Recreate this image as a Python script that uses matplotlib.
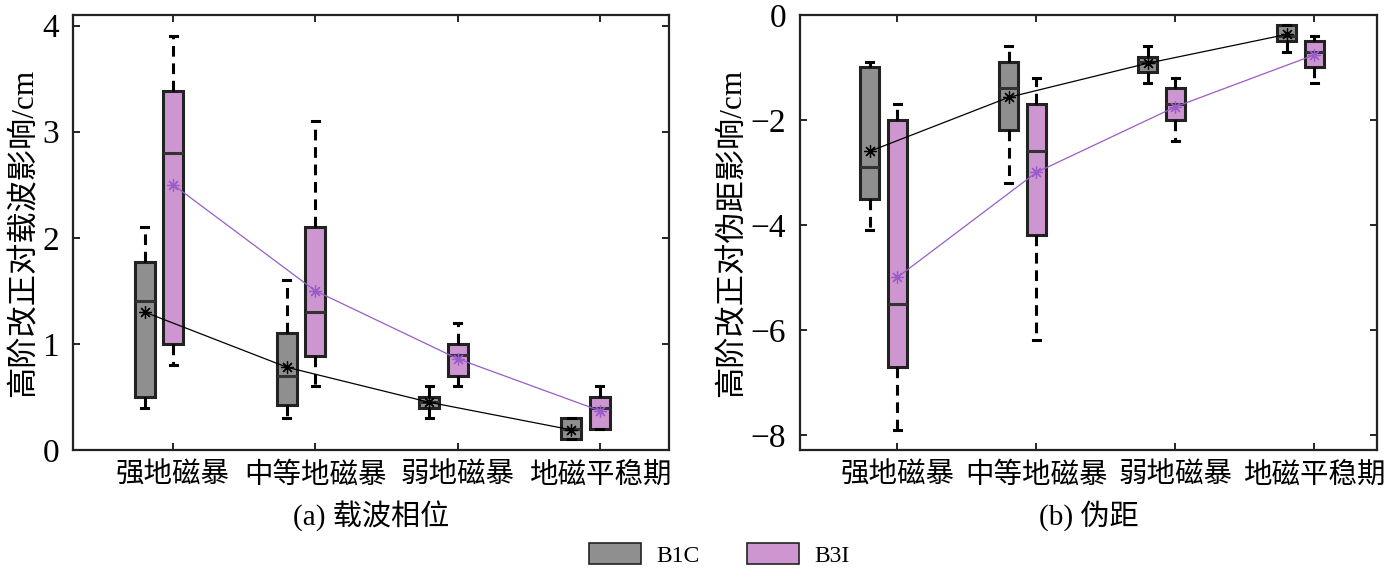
import numpy as np
import matplotlib
matplotlib.use("Agg")
import matplotlib.pyplot as plt
from matplotlib.patches import Patch

plt.rcParams['font.family'] = ['Liberation Serif', 'Noto Sans CJK SC']
plt.rcParams['axes.unicode_minus'] = True

cats = ['强地磁暴', '中等地磁暴', '弱地磁暴', '地磁平稳期']
names = ['B1C', 'B3I']
gray = '#8f8f8f'
pink = '#cd96d0'
purple = '#9a5cc8'

# (a) carrier phase: whislo, q1, med, q3, whishi, mean
phase_b1c_lo = [0.4, 0.3, 0.3, 0.1]
phase_b1c_q1 = [0.5, 0.42, 0.4, 0.1]
phase_b1c_med = [1.4, 0.7, 0.45, 0.2]
phase_b1c_q3 = [1.77, 1.1, 0.5, 0.3]
phase_b1c_hi = [2.1, 1.6, 0.6, 0.3]
phase_b1c_mean = [1.3, 0.78, 0.45, 0.19]

phase_b3i_lo = [0.8, 0.6, 0.6, 0.2]
phase_b3i_q1 = [1.0, 0.89, 0.7, 0.2]
phase_b3i_med = [2.8, 1.3, 0.9, 0.4]
phase_b3i_q3 = [3.38, 2.1, 1.0, 0.5]
phase_b3i_hi = [3.9, 3.1, 1.2, 0.6]
phase_b3i_mean = [2.5, 1.5, 0.86, 0.37]

# (b) pseudorange
range_b1c_lo = [-4.1, -3.2, -1.3, -0.7]
range_b1c_q1 = [-3.5, -2.2, -1.08, -0.5]
range_b1c_med = [-2.9, -1.4, -0.89, -0.4]
range_b1c_q3 = [-1.0, -0.9, -0.8, -0.2]
range_b1c_hi = [-0.9, -0.6, -0.6, -0.2]
range_b1c_mean = [-2.6, -1.57, -0.92, -0.37]

range_b3i_lo = [-7.9, -6.2, -2.4, -1.3]
range_b3i_q1 = [-6.7, -4.2, -2.0, -1.0]
range_b3i_med = [-5.5, -2.6, -1.7, -0.7]
range_b3i_q3 = [-2.0, -1.7, -1.4, -0.5]
range_b3i_hi = [-1.7, -1.2, -1.2, -0.4]
range_b3i_mean = [-5.0, -3.0, -1.75, -0.76]


def make_stats(lo, q1, med, q3, hi, mean):
    return [dict(whislo=a, q1=b, med=c, q3=d, whishi=e, mean=f, fliers=[])
            for a, b, c, d, e, f in zip(lo, q1, med, q3, hi, mean)]


def draw(ax, s1, s2, m1, m2):
    x = np.arange(1, len(cats) + 1)
    for stats, pos, col in [(s1, x - 0.2, gray), (s2, x, pink)]:
        ax.bxp(stats, positions=pos, widths=0.14, patch_artist=True,
               showfliers=False, showmeans=False, capwidths=0.05,
               boxprops=dict(facecolor=col, edgecolor='#222222', linewidth=2.2),
               medianprops=dict(color='#333333', linewidth=2.2),
               whiskerprops=dict(color='black', linewidth=2.2, linestyle=(0, (3.5, 2.2))),
               capprops=dict(color='black', linewidth=2.2),
               manage_ticks=False)
    ax.plot(x - 0.2, m1, color='black', lw=0.9, marker=(8, 2, 0), ms=9, mew=0.9, zorder=5)
    ax.plot(x, m2, color=purple, lw=0.9, marker=(8, 2, 0), ms=9, mew=0.9, zorder=5)
    ax.set_xticks(x)
    ax.set_xticklabels(cats, fontsize=20.5)
    ax.tick_params(axis='y', labelsize=24, pad=10)
    ax.tick_params(axis='x', pad=9)
    ax.tick_params(direction='in', top=True, right=True, length=5, width=1.2)
    for sp in ax.spines.values():
        sp.set_linewidth(1.6)
        sp.set_color('#222222')


fig = plt.figure(figsize=(13.84, 5.69), dpi=100)
ax1 = fig.add_axes([73 / 1384, 1 - 450 / 569, 596 / 1384, 435 / 569])
ax2 = fig.add_axes([800 / 1384, 1 - 450 / 569, 577 / 1384, 435 / 569])

draw(ax1,
     make_stats(phase_b1c_lo, phase_b1c_q1, phase_b1c_med, phase_b1c_q3, phase_b1c_hi, phase_b1c_mean),
     make_stats(phase_b3i_lo, phase_b3i_q1, phase_b3i_med, phase_b3i_q3, phase_b3i_hi, phase_b3i_mean),
     phase_b1c_mean, phase_b3i_mean)
ax1.set_xlim(0.296, 4.486)
ax1.set_ylim(0, 4.1)
ax1.set_yticks([0, 1, 2, 3, 4])
ax1.set_ylabel('高阶改正对载波影响/cm', fontsize=22.5, labelpad=2)
ax1.set_xlabel('(a) 载波相位', fontsize=21, labelpad=8)

draw(ax2,
     make_stats(range_b1c_lo, range_b1c_q1, range_b1c_med, range_b1c_q3, range_b1c_hi, range_b1c_mean),
     make_stats(range_b3i_lo, range_b3i_q1, range_b3i_med, range_b3i_q3, range_b3i_hi, range_b3i_mean),
     range_b1c_mean, range_b3i_mean)
ax2.set_xlim(0.30, 4.45)
ax2.set_ylim(-8.29, 0)
ax2.set_yticks([-8, -6, -4, -2, 0])
ax2.set_ylabel('高阶改正对伪距影响/cm', fontsize=22.5, labelpad=2)
ax2.set_xlabel('(b) 伪距', fontsize=21, labelpad=8)

handles = [Patch(facecolor=gray, edgecolor='#222222', lw=1.2),
           Patch(facecolor=pink, edgecolor='#222222', lw=1.2)]
fig.legend(handles, names, loc='lower center', bbox_to_anchor=(0.52, -0.033), ncol=2,
           frameon=False, fontsize=17, handlelength=2.2, handleheight=0.95,
           columnspacing=2.0, handletextpad=0.65)

fig.savefig('out.png', dpi=100)
